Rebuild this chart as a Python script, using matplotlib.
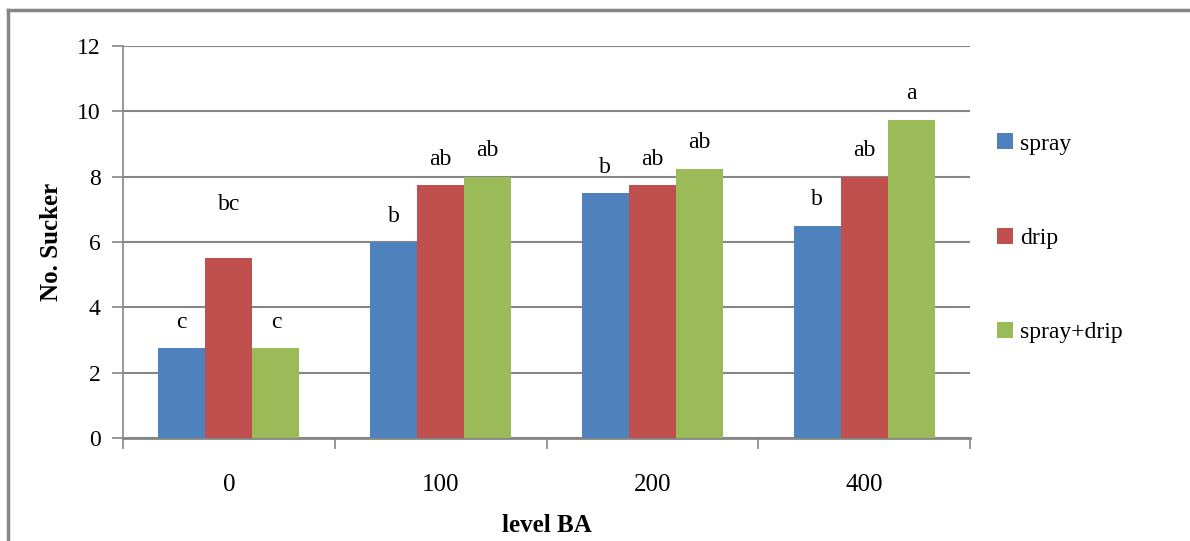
import matplotlib
matplotlib.use("Agg")
import matplotlib.pyplot as plt
from matplotlib.lines import Line2D
import numpy as np

categories = ["0", "100", "200", "400"]
series_names = ["spray", "drip", "spray+drip"]
spray = [2.75, 6.0, 7.5, 6.5]
drip = [5.5, 7.75, 7.75, 8.0]
spray_drip = [2.75, 8.0, 8.25, 9.75]
letters_spray = ["c", "b", "b", "b"]
letters_drip = ["bc", "ab", "ab", "ab"]
letters_sd = ["c", "ab", "ab", "a"]
yticks = [0, 2, 4, 6, 8, 10, 12]

colors = ["#4F81BD", "#C0504D", "#9BBB59"]
grid_c = "#868686"

plt.rcParams['font.family'] = ['Liberation Serif', 'DejaVu Serif']

fig = plt.figure(figsize=(11.9, 5.41), dpi=100)
ax = fig.add_axes([123/1190, 1 - 438/541, (970-123)/1190, (438-46)/541])

x = np.arange(len(categories))
w = 0.667 / 3
all_series = [spray, drip, spray_drip]
all_letters = [letters_spray, letters_drip, letters_sd]
for i, (vals, lets) in enumerate(zip(all_series, all_letters)):
    xs = x + (i - 1) * w
    ax.bar(xs, vals, width=w, color=colors[i], label=series_names[i], zorder=3)
    for xi, v, t in zip(xs, vals, lets):
        extra = 28 if t == "bc" else 0
        ax.annotate(t, (xi, v), xytext=(0, 11 + extra * 0.72), textcoords="offset points",
                    ha="center", va="bottom", fontsize=17)

ax.set_xlim(-0.5, len(categories) - 0.5)
ax.set_ylim(0, 12)
ax.set_yticks(yticks)
ax.set_yticklabels([str(t) for t in yticks], fontsize=17)
ax.yaxis.grid(True, color=grid_c, linewidth=1.5, zorder=0)
ax.set_axisbelow(True)

ax.set_xticks(np.arange(-0.5, len(categories), 1.0))
ax.set_xticklabels([])
ax.set_xticks(x, minor=True)
ax.set_xticklabels(categories, minor=True, fontsize=18)
ax.tick_params(axis="x", which="major", length=8, color=grid_c, width=1.2, direction="out")
ax.tick_params(axis="x", which="minor", length=0, pad=26)
ax.tick_params(axis="y", length=8, color=grid_c, width=1.2, pad=8)

for s in ["top", "right"]:
    ax.spines[s].set_visible(False)
ax.spines["left"].set_color(grid_c)
ax.spines["left"].set_linewidth(1.2)
ax.spines["bottom"].set_color(grid_c)
ax.spines["bottom"].set_linewidth(2)

ax.set_ylabel("No. Sucker", fontsize=18, fontweight="bold", labelpad=10)
ax.set_xlabel("level BA", fontsize=18, fontweight="bold", labelpad=13)

leg = fig.legend(loc="upper left", bbox_to_anchor=(988/1190, 1 - 124/541), frameon=False,
                 fontsize=17, handlelength=0.65, handleheight=0.65, handletextpad=0.3,
                 labelspacing=3.1, borderaxespad=0)

fig.add_artist(Line2D([8/1190, 8/1190], [0, 1 - 10/541], transform=fig.transFigure,
                      color=grid_c, linewidth=2.5))
fig.add_artist(Line2D([8/1190, 1], [1 - 10/541, 1 - 10/541], transform=fig.transFigure,
                      color=grid_c, linewidth=2.5))

fig.savefig("out.png", dpi=100)
